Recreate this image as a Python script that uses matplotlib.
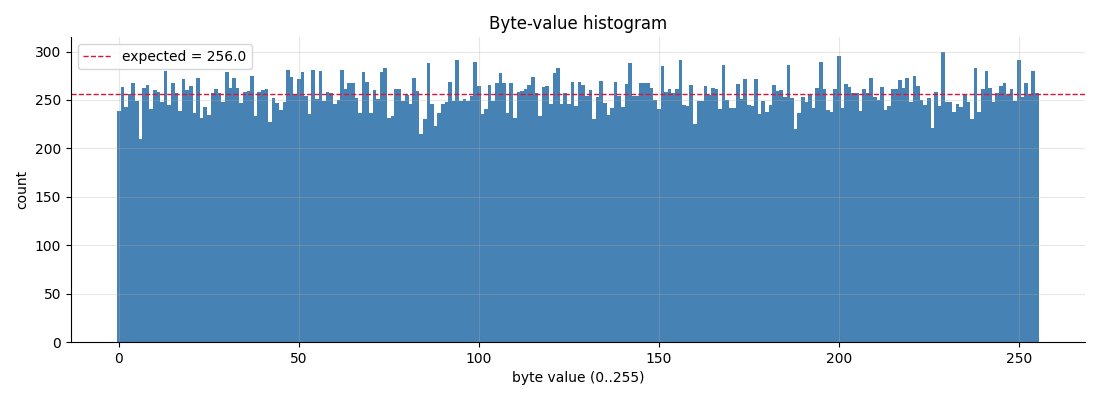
import numpy as np
import matplotlib
matplotlib.use("Agg")
import matplotlib.pyplot as plt

byte_values = list(range(256))
counts = [
    239, 263, 243, 256, 268, 249, 210, 262, 265, 241,
    260, 258, 248, 280, 245, 268, 257, 239, 272, 260,
    264, 237, 273, 231, 243, 234, 257, 261, 257, 248,
    279, 262, 273, 262, 247, 258, 259, 275, 233, 258,
    260, 261, 227, 252, 247, 240, 248, 281, 274, 255,
    272, 279, 254, 235, 281, 251, 280, 249, 258, 257,
    246, 250, 281, 261, 268, 267, 252, 237, 279, 269,
    237, 260, 251, 279, 283, 231, 233, 261, 261, 249,
    255, 246, 273, 259, 215, 230, 288, 246, 223, 237,
    246, 248, 269, 249, 291, 249, 251, 249, 254, 289,
    264, 235, 241, 265, 249, 267, 278, 268, 237, 268,
    231, 258, 259, 261, 265, 274, 257, 233, 263, 264,
    246, 278, 283, 246, 257, 246, 269, 244, 269, 265,
    254, 260, 230, 253, 270, 247, 234, 242, 269, 254,
    243, 266, 288, 254, 254, 268, 268, 267, 262, 250,
    241, 285, 258, 261, 257, 261, 291, 245, 244, 265,
    225, 249, 249, 264, 255, 262, 261, 241, 286, 250,
    242, 242, 266, 251, 272, 245, 244, 272, 235, 249,
    238, 245, 265, 259, 260, 253, 286, 252, 220, 236,
    253, 248, 256, 242, 262, 289, 261, 240, 238, 261,
    295, 242, 266, 263, 257, 257, 239, 261, 257, 273,
    253, 250, 263, 240, 244, 261, 261, 271, 262, 273,
    248, 275, 264, 250, 245, 252, 221, 258, 244, 300,
    248, 248, 238, 246, 243, 255, 248, 230, 283, 238,
    261, 280, 262, 248, 257, 264, 267, 255, 261, 249,
    291, 253, 268, 256, 280, 257,
]
expected = 256.0

fig = plt.figure(figsize=(11, 4), dpi=100)
ax = fig.add_axes([0.0645, 0.145, 0.9215, 0.7625])

ax.bar(byte_values, counts, width=1.0, color="steelblue")
ax.axhline(expected, color="crimson", linestyle="--", linewidth=1.0,
           label=f"expected = {expected:.1f}")

ax.set_title("Byte-value histogram")
ax.set_xlabel("byte value (0..255)")
ax.set_ylabel("count")
ax.grid(True, alpha=0.3)
ax.spines["top"].set_visible(False)
ax.spines["right"].set_visible(False)
ax.legend(loc="upper left")

fig.savefig("out.png", dpi=100)
